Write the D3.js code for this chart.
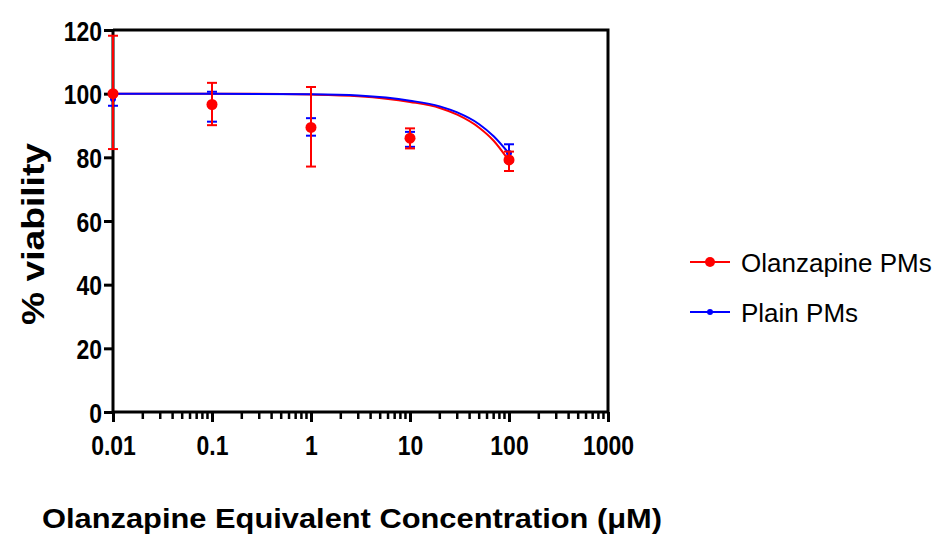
<!DOCTYPE html>
<html>
<head>
<meta charset="utf-8">
<script src="https://cdn.jsdelivr.net/npm/d3@7"></script>
<style>
  body { margin: 0; background: #fff; }
  svg text { font-family: "Liberation Sans", Arial, sans-serif; }
</style>
</head>
<body>
<div id="chart"></div>
<script>
// concentrations (uM)
const doses = [0.01, 0.1, 1, 10, 100]

// Olanzapine PMs
const olzMean = [100, 96.6, 89.4, 86.0, 79.2]
const olzLow = [82.6, 90.1, 77.1, 82.8, 75.7]
const olzHigh = [118.2, 103.4, 102.1, 89.1, 81.8]

// Plain PMs
const plainMean = [98.3, 96.0, 89.6, 85.6, 81.4]
const plainLow = [96.2, 91.2, 86.8, 83.3, 78.7]
const plainHigh = [100.4, 100.6, 92.3, 88.0, 84.1]

// fitted curves
const fitX = [0.01, 0.1, 1, 3, 10, 20, 30, 50, 70, 100]
const olzFit = [100, 100, 99.7, 99.2, 97.4, 95.5, 93.4, 89.3, 85.2, 78.9]
const plainFit = [100, 100, 99.8, 99.4, 97.8, 96.0, 94.1, 90.4, 86.6, 81.2]

const xTicks = [0.01, 0.1, 1, 10, 100, 1000]
const yTicks = [0, 20, 40, 60, 80, 100, 120]

const seriesNames = ["Olanzapine PMs", "Plain PMs"]
const colors = ["#ff0000", "#0000ff"]

let width = 937, height = 538
let margin = { top: 30, right: 329, bottom: 126, left: 113 }
let w = width - margin.left - margin.right,
    h = height - margin.top - margin.bottom

let svg = d3.select("#chart").append("svg")
    .attr("width", width)
    .attr("height", height)

let g = svg.append("g")
    .attr("transform", "translate(" + margin.left + "," + margin.top + ")")

let x = d3.scaleLog().domain([0.01, 1000]).range([0, w])
let y = d3.scaleLinear().domain([0, 120]).range([h, 0])

// frame top + right
g.append("path")
    .attr("d", "M0,0H" + w + "V" + h)
    .attr("fill", "none")
    .attr("stroke", "#000")
    .attr("stroke-width", 3)

// minor ticks on x
let minor = []
for (let e = -2; e < 3; e++) {
    for (let m = 2; m < 10; m++) minor.push(m * Math.pow(10, e))
}

let xAx = g.append("g")
    .attr("transform", "translate(0," + h + ")")
    .call(d3.axisBottom(x).tickValues(xTicks).tickFormat(d => d >= 1 ? d3.format("d")(d) : String(d)).tickSize(10).tickPadding(6))
xAx.selectAll(".minor-x")
    .data(minor)
    .enter()
    .append("line")
    .attr("x1", d => x(d)).attr("x2", d => x(d))
    .attr("y1", 0).attr("y2", 7)
    .attr("stroke", "#000")
    .attr("stroke-width", 2.5)

let yAx = g.append("g")
    .call(d3.axisLeft(y).tickValues(yTicks).tickSize(9).tickPadding(3))

for (let ax of [xAx, yAx]) {
    ax.select(".domain").attr("stroke-width", 3).attr("d", ax === xAx ? "M0,0H" + w : "M0,0V" + h)
    ax.selectAll(".tick line").attr("stroke-width", 3)
    ax.selectAll(".tick text")
        .attr("fill", "#000")
        .style("font-size", "28px")
        .style("font-weight", "bold")
}
// narrow the digits like the original
xAx.selectAll(".tick text")
    .attr("y", 43)
    .attr("dy", null)
    .attr("transform", "scale(0.82,1)")
yAx.selectAll(".tick text")
    .attr("x", -11 / 0.82)
    .attr("dy", "0.36em")
    .attr("transform", "scale(0.82,1)")

let line = d3.line()
    .x(d => x(d[0]))
    .y(d => y(d[1]))
    .curve(d3.curveMonotoneX)

let series = [
    { mean: plainMean, low: plainLow, high: plainHigh, color: colors[1], r: 3 },
    { mean: olzMean, low: olzLow, high: olzHigh, color: colors[0], r: 5.5 }
]

// curves first, red under blue
g.append("path")
    .datum(fitX.map((d, i) => [d, olzFit[i]]))
    .attr("fill", "none")
    .attr("stroke", colors[0])
    .attr("stroke-width", 2)
    .attr("d", line)
g.append("path")
    .datum(fitX.map((d, i) => [d, plainFit[i]]))
    .attr("fill", "none")
    .attr("stroke", colors[1])
    .attr("stroke-width", 2)
    .attr("d", line)

for (let s of series) {
    let sg = g.append("g")
    let pts = doses.map((d, i) => ({ x: d, m: s.mean[i], lo: s.low[i], hi: s.high[i] }))
    sg.selectAll(".bar")
        .data(pts)
        .enter()
        .append("line")
        .attr("x1", d => x(d.x)).attr("x2", d => x(d.x))
        .attr("y1", d => y(d.lo)).attr("y2", d => y(d.hi))
        .attr("stroke", s.color)
        .attr("stroke-width", 2)
    for (let k of ["lo", "hi"]) {
        sg.selectAll(".cap-" + k)
            .data(pts)
            .enter()
            .append("line")
            .attr("x1", d => x(d.x) - 5).attr("x2", d => x(d.x) + 5)
            .attr("y1", d => y(d[k])).attr("y2", d => y(d[k]))
            .attr("stroke", s.color)
            .attr("stroke-width", 2)
    }
    sg.selectAll("circle")
        .data(pts)
        .enter()
        .append("circle")
        .attr("cx", d => x(d.x))
        .attr("cy", d => y(d.m))
        .attr("r", s.r)
        .attr("fill", s.color)
}

// axis titles
svg.append("text")
    .attr("transform", "translate(44,234)rotate(-90)")
    .attr("text-anchor", "middle")
    .attr("textLength", 182)
    .attr("lengthAdjust", "spacingAndGlyphs")
    .style("font-size", "31px")
    .style("font-weight", "bold")
    .text("% viability")

svg.append("text")
    .attr("x", 352)
    .attr("y", 528)
    .attr("text-anchor", "middle")
    .attr("textLength", 620)
    .attr("lengthAdjust", "spacingAndGlyphs")
    .style("font-size", "27px")
    .style("font-weight", "bold")
    .text("Olanzapine Equivalent Concentration (\u03bcM)")

// legend
let legend = svg.append("g")
    .attr("transform", "translate(690,262)")
let li = legend.selectAll("g")
    .data(seriesNames)
    .enter()
    .append("g")
    .attr("transform", (d, i) => "translate(0," + i * 50 + ")")
li.append("line")
    .attr("x1", 0).attr("x2", 40)
    .attr("stroke", (d, i) => colors[i])
    .attr("stroke-width", 2)
li.append("circle")
    .attr("cx", 20)
    .attr("r", (d, i) => i == 0 ? 5 : 3)
    .attr("fill", (d, i) => colors[i])
li.append("text")
    .attr("x", 51)
    .attr("y", 10)
    .style("font-size", "26px")
    .text(d => d)
</script>
</body>
</html>
